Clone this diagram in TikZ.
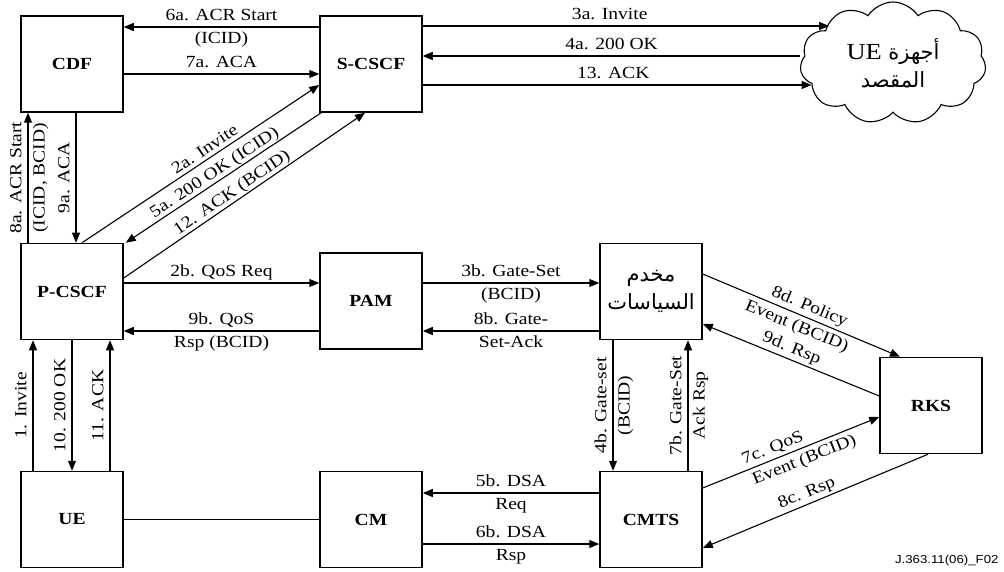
\documentclass[tikz,border=0pt]{standalone}
\usepackage{fontspec}
\setmainfont{Liberation Serif}[FakeStretch=1.15]
\newfontfamily\arabicfont[Script=Arabic]{DejaVu Sans}
\newfontfamily\figfont{Liberation Sans}[FakeStretch=1.15]
\TeXXeTstate=1
\usetikzlibrary{arrows.meta,shapes.symbols}

\begin{document}
\begin{tikzpicture}[x=1pt,y=-1pt,
  every node/.style={font=\fontsize{17}{28}\selectfont},
  box/.style={draw,line width=1.5pt,minimum width=102pt,minimum height=96pt,inner sep=0pt,font=\fontsize{17}{28}\selectfont\bfseries},
  msg/.style={-{Triangle[length=10pt,width=8pt]},line width=1.1pt},
  lbl/.style={inner sep=3pt,text height=13pt,text depth=3pt},
  arlbl/.style={font=\fontsize{21}{28}\selectfont\arabicfont,align=center}]
\useasboundingbox (0,0) rectangle (1004,572);
\node[box] (cdf) at (72,64) {CDF};
\node[box] (scscf) at (371,64) {S-CSCF};
\node[box] (pcscf) at (72,291.5) {P-CSCF};
\node[box] (pam) at (371,301) {PAM};
\node[box,arlbl] (ps) at (651,291.5) {\beginR مخدم\endR\\\beginR السياسات\endR};
\node[box] (rks) at (931,405.5) {RKS};
\node[box] (ue) at (72,519.5) {UE};
\node[box] (cm) at (371,519.5) {CM};
\node[box] (cmts) at (651,519.5) {CMTS};
\node[cloud,draw,line width=1.1pt,cloud puffs=11,cloud puff arc=115,aspect=1.65,minimum width=186pt,minimum height=122pt,inner sep=0pt,arlbl] (dest) at (893,63) {\beginR أجهزة \beginL{\rmfamily\fontsize{23}{28}\selectfont UE}\endL\endR\\\beginR المقصد\endR};
\node[anchor=east,font={\figfont\fontsize{11.5}{13}\selectfont}] (fig) at (1002,561) {J.363.11(06)\_F02};
% CDF and S-CSCF
\draw[msg] ([yshift=37pt]scscf.west) -- node[lbl,above]{6a. ACR Start} node[lbl,below]{(ICID)} ([yshift=37pt]cdf.east);
\draw[msg] ([yshift=-10pt]cdf.east) -- node[lbl,above]{7a. ACA} ([yshift=-10pt]scscf.west);
\draw[msg] ([yshift=38pt]scscf.east) -- node[lbl,above,pos=.46]{3a. Invite} ([yshift=38pt]scscf.east -| dest.147);
\draw[msg] ([yshift=8pt]scscf.east -| dest.west) -- node[lbl,above]{4a. 200 OK} ([yshift=8pt]scscf.east);
\draw[msg] ([yshift=-21pt]scscf.east) -- node[lbl,above,pos=.49]{13. ACK} ([yshift=-21pt]scscf.east -| dest.195);
\draw[msg] ([xshift=-44pt]pcscf.north) -- node[lbl,rotate=90,above]{8a. ACR Start} node[lbl,rotate=90,below]{(ICID, BCID)} ([xshift=-44pt]cdf.south);
\draw[msg] ([xshift=4pt]cdf.south) -- node[lbl,rotate=90,above]{9a. ACA} ([xshift=4pt]pcscf.north);
% P-CSCF to S-CSCF
\draw[msg] ([xshift=10pt]pcscf.north) -- node[lbl,inner sep=1pt,sloped,above,pos=.54]{2a. Invite} ([yshift=-21pt]scscf.west);
\draw[msg] ([xshift=2pt]scscf.south west) -- node[lbl,inner sep=1pt,sloped,above,pos=.52]{5a. 200 OK (ICID)} ([xshift=2pt]pcscf.north east);
\draw[msg] ([yshift=13.5pt]pcscf.east) -- node[lbl,inner sep=1pt,sloped,above,pos=.47]{12. ACK (BCID)} ([xshift=-6pt]scscf.south);
% QoS row
\draw[msg] ([yshift=8.5pt]pcscf.east) -- node[lbl,above]{2b. QoS Req} ([yshift=8.5pt]pcscf.east -| pam.west);
\draw[msg] ([yshift=-39.5pt]pcscf.east -| pam.west) -- node[lbl,above]{9b. QoS} node[lbl,below]{Rsp (BCID)} ([yshift=-39.5pt]pcscf.east);
\draw[msg] ([yshift=18pt]pam.east) -- node[lbl,above]{3b. Gate-Set} node[lbl,below]{(BCID)} ([yshift=18pt]pam.east -| ps.west);
\draw[msg] ([yshift=-30pt]pam.east -| ps.west) -- node[lbl,above]{8b. Gate-} node[lbl,below]{Set-Ack} ([yshift=-30pt]pam.east);
% policy server, CMTS and RKS
\draw[msg] ([xshift=-38pt]ps.south) -- node[lbl,rotate=90,above]{4b. Gate-set} node[lbl,rotate=90,below]{(BCID)} ([xshift=-38pt]cmts.north);
\draw[msg] ([xshift=37pt]cmts.north) -- node[lbl,rotate=90,above]{7b. Gate-Set} node[lbl,rotate=90,below]{Ack Rsp} ([xshift=37pt]ps.south);
\draw[msg] ([yshift=17.5pt]ps.east) -- node[lbl,sloped,above,pos=.52]{8d. Policy} node[lbl,sloped,below,pos=.5]{Event (BCID)} ([xshift=-31pt]rks.north);
\draw[msg] ([yshift=9.5pt]rks.west) -- node[lbl,sloped,above,pos=.52]{9d. Rsp} ([yshift=-32.5pt]ps.east);
\draw[msg] ([yshift=31.5pt]cmts.east) -- node[lbl,sloped,above,pos=.42]{7c. QoS} node[lbl,sloped,below,pos=.55]{Event (BCID)} ([yshift=-11.5pt]rks.west);
\draw[msg] ([xshift=-3pt]rks.south) -- node[lbl,sloped,above,pos=.52]{8c. Rsp} ([yshift=-28.5pt]cmts.east);
% bottom row
\draw[msg] ([yshift=26.5pt]cmts.west) -- node[lbl,above]{5b. DSA} node[lbl,below]{Req} ([yshift=26.5pt]cmts.west -| cm.east);
\draw[msg] ([yshift=-24.5pt]cm.east) -- node[lbl,above]{6b. DSA} node[lbl,below]{Rsp} ([yshift=-24.5pt]cm.east -| cmts.west);
\draw[line width=1pt] (ue) -- (cm);
\draw[msg] ([xshift=-39pt]ue.north) -- node[lbl,rotate=90,above]{1. Invite} ([xshift=-39pt]pcscf.south);
\draw[msg] (pcscf.south) -- node[lbl,rotate=90,above]{10. 200 OK} (ue.north);
\draw[msg] ([xshift=38pt]ue.north) -- node[lbl,rotate=90,above]{11. ACK} ([xshift=38pt]pcscf.south);
\end{tikzpicture}
\end{document}
